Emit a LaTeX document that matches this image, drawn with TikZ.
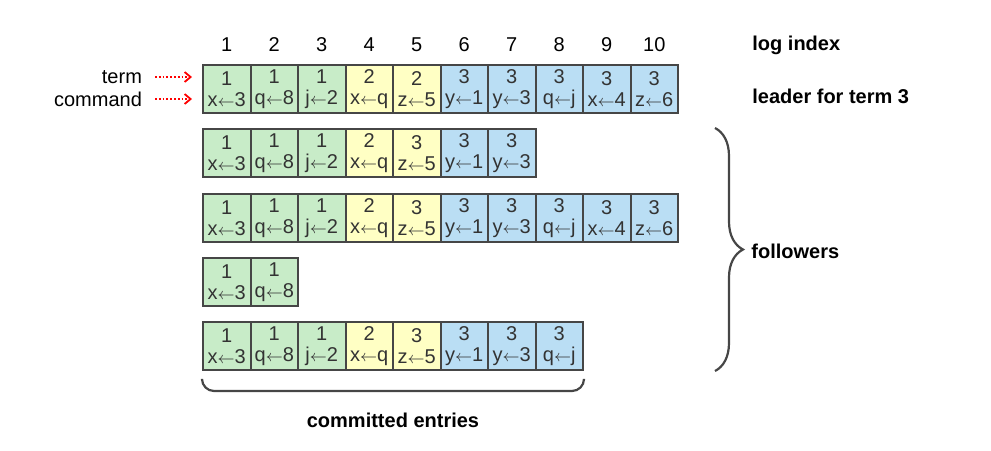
\documentclass[tikz,border=0pt]{standalone}
\usepackage{fontspec}
\setmainfont{Liberation Sans}
\usepackage{xcolor}
\usetikzlibrary{decorations.pathreplacing,arrows.meta,positioning,calc}

\definecolor{termone}{RGB}{200,236,200}
\definecolor{termtwo}{RGB}{255,255,196}
\definecolor{termthree}{RGB}{186,222,244}
\definecolor{cellline}{RGB}{70,70,70}
\newcommand{\setto}{{\footnotesize$\leftarrow$}}

\begin{document}
\begin{tikzpicture}[x=0.5pt,y=-0.5pt,
		entry/.style={draw=cellline, line width=1pt, minimum width=23.75pt, minimum height=24pt, inner sep=0pt,
			anchor=north west, align=center, text=black!80, font=\fontsize{10}{10.5}\selectfont},
		tone/.style={entry, fill=termone},
		ttwo/.style={entry, fill=termtwo},
		tthree/.style={entry, fill=termthree},
		tag/.style={font=\bfseries\fontsize{10}{12}\selectfont, anchor=west, inner sep=0pt},
		pointer/.style={red, densely dotted, line width=0.9pt, -{Straight Barb[length=3pt,width=5pt]}}]
		\useasboundingbox (0,0) rectangle (991,450);

		\foreach \t/\c/\s [count=\i] in {1/x\setto3/tone, 1/q\setto8/tone, 1/j\setto2/tone, 2/x\setto q/ttwo, 2/z\setto5/ttwo,
			3/y\setto1/tthree, 3/y\setto3/tthree, 3/q\setto j/tthree, 3/x\setto4/tthree, 3/z\setto6/tthree}
			\node[\s] (lead-\i) at (154.5+47.5*\i, 64) {\t\\\c};

		\foreach \t/\c/\s [count=\i] in {1/x\setto3/tone, 1/q\setto8/tone, 1/j\setto2/tone, 2/x\setto q/ttwo, 3/z\setto5/ttwo,
			3/y\setto1/tthree, 3/y\setto3/tthree}
			\node[\s] (fa-\i) at (154.5+47.5*\i, 128) {\t\\\c};

		\foreach \t/\c/\s [count=\i] in {1/x\setto3/tone, 1/q\setto8/tone, 1/j\setto2/tone, 2/x\setto q/ttwo, 3/z\setto5/ttwo,
			3/y\setto1/tthree, 3/y\setto3/tthree, 3/q\setto j/tthree, 3/x\setto4/tthree, 3/z\setto6/tthree}
			\node[\s] (fb-\i) at (154.5+47.5*\i, 193) {\t\\\c};

		\foreach \t/\c/\s [count=\i] in {1/x\setto3/tone, 1/q\setto8/tone}
			\node[\s] (fc-\i) at (154.5+47.5*\i, 257) {\t\\\c};

		\foreach \t/\c/\s [count=\i] in {1/x\setto3/tone, 1/q\setto8/tone, 1/j\setto2/tone, 2/x\setto q/ttwo, 3/z\setto5/ttwo,
			3/y\setto1/tthree, 3/y\setto3/tthree, 3/q\setto j/tthree}
			\node[\s] (fd-\i) at (154.5+47.5*\i, 321) {\t\\\c};

		\foreach \i in {1,...,10}
			\node[font=\fontsize{10}{12}\selectfont] (idx-\i) at ($(lead-\i.north)+(0,-19)$) {\i};

		\node[tag] (logindex) at (752,45) {log index};
		\node[tag] (leader) at (752,96) {leader for term 3};

		\node[anchor=east, font=\fontsize{10}{12}\selectfont] (term) at (149,77) {term};
		\node[anchor=east, font=\fontsize{10}{12}\selectfont] (command) at (149,99) {command};
		\draw[pointer, shorten <=3pt, shorten >=5pt] (term.east) -- (term.east -| lead-1.west);
		\draw[pointer, shorten <=3pt, shorten >=5pt] (command.east) -- (command.east -| lead-1.west);

		\coordinate (bracetop) at ($(fb-10.east |- fa-1.north)+(36,0)$);
		\coordinate (bracebot) at ($(fb-10.east |- fd-1.south)+(36,0)$);
		\draw[cellline, line width=1.1pt, decorate, decoration={brace, amplitude=14pt}] (bracetop) -- (bracebot);
		\node[tag] (followers) at (751,251) {followers};

		\draw[cellline, line width=1.1pt, rounded corners=6pt] ($(fd-1.south west)+(0,9)$) -- ($(fd-1.south west)+(0,20)$)
			-- ($(fd-8.south east)+(0,20)$) -- ($(fd-8.south east)+(0,9)$);
		\node[font=\bfseries\fontsize{10}{12}\selectfont] (committed) at ($(fd-1.south west)!0.5!(fd-8.south east)+(0,49)$) {committed entries};
	\end{tikzpicture}
\end{document}
